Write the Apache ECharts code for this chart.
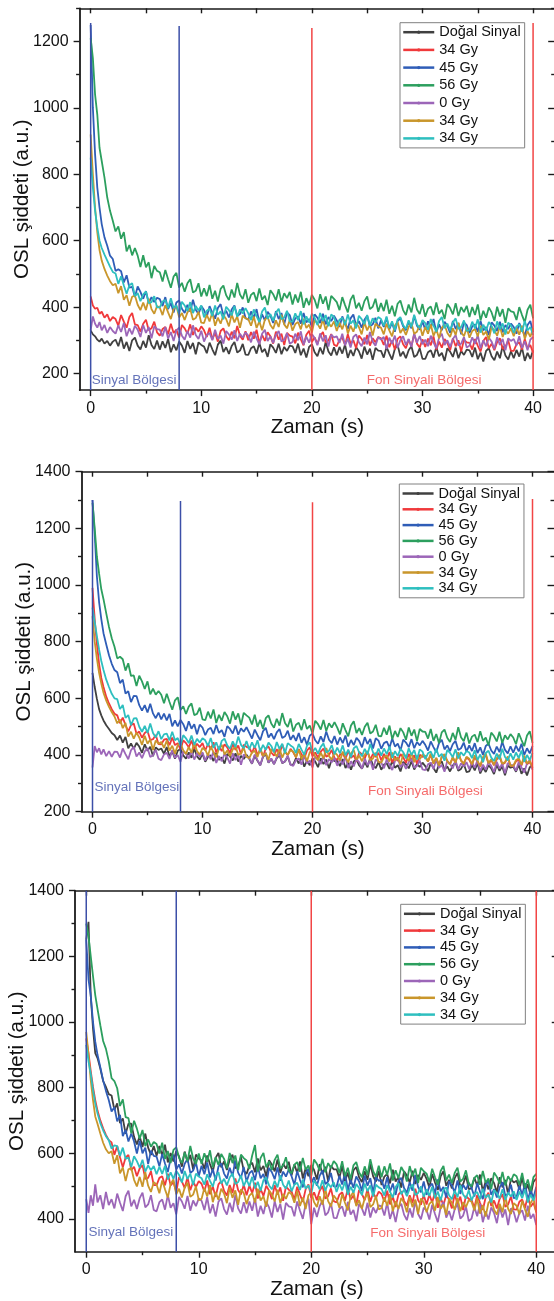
<!DOCTYPE html>
<html>
<head>
<meta charset="utf-8">
<script src="https://cdn.jsdelivr.net/npm/echarts@6/dist/echarts.min.js"></script>
<style>
html,body{margin:0;padding:0;background:#fff;}
#main{width:554px;height:1301px;}
</style>
</head>
<body>
<div id="main"></div>
<script>
/* zaman ekseni (s) */
var time = [0, 0.2, 0.4, 0.6, 0.8, 1, 1.25, 1.5, 1.75, 2,
    2.25, 2.5, 2.75, 3, 3.25, 3.5, 3.75, 4, 4.25, 4.5, 4.75, 5, 5.25, 5.5, 5.75, 6,
    6.25, 6.5, 6.75, 7, 7.25, 7.5, 7.75, 8, 8.25, 8.5, 8.75, 9, 9.25, 9.5, 9.75, 10,
    10.25, 10.5, 10.75, 11, 11.25, 11.5, 11.75, 12, 12.25, 12.5, 12.75, 13, 13.25, 13.5, 13.75, 14,
    14.25, 14.5, 14.75, 15, 15.25, 15.5, 15.75, 16, 16.25, 16.5, 16.75, 17, 17.25, 17.5, 17.75, 18,
    18.25, 18.5, 18.75, 19, 19.25, 19.5, 19.75, 20, 20.25, 20.5, 20.75, 21, 21.25, 21.5, 21.75, 22,
    22.25, 22.5, 22.75, 23, 23.25, 23.5, 23.75, 24, 24.25, 24.5, 24.75, 25, 25.25, 25.5, 25.75, 26,
    26.25, 26.5, 26.75, 27, 27.25, 27.5, 27.75, 28, 28.25, 28.5, 28.75, 29, 29.25, 29.5, 29.75, 30,
    30.25, 30.5, 30.75, 31, 31.25, 31.5, 31.75, 32, 32.25, 32.5, 32.75, 33, 33.25, 33.5, 33.75, 34,
    34.25, 34.5, 34.75, 35, 35.25, 35.5, 35.75, 36, 36.25, 36.5, 36.75, 37, 37.25, 37.5, 37.75, 38,
    38.25, 38.5, 38.75, 39, 39.25, 39.5, 39.75, 40];

var names = ['Doğal Sinyal', '34 Gy', '45 Gy', '56 Gy', '0 Gy', '34 Gy ', '34 Gy  '];

var xLabels = [0, 10, 20, 30, 40];
var xMinor = [5, 15, 25, 35];
var xTop = [0, 5, 10, 15, 20, 25, 30, 35, 40];
var yLabels1 = [200, 400, 600, 800, 1000, 1200];
var yMinor1 = [300, 500, 700, 900, 1100, 1300];
var yLabels2 = [200, 400, 600, 800, 1000, 1200, 1400];
var yMinor2 = [300, 500, 700, 900, 1100, 1300];
var yLabels3 = [400, 600, 800, 1000, 1200, 1400];
var yMinor3 = [500, 700, 900, 1100, 1300];

/* bölge çizgileri: x konumu ve üst uçları */
var regionX = [0, 8, 20, 40];
var regionTop1 = [1256, 1247, 1241, 1256];
var regionTop2 = [1300, 1297, 1292, 1304];
var regionTop3 = [1400, 1400, 1400, 1400];

/* ---- 1. grafik ---- */
var p1Dogal = [330, 318, 312, 302, 296, 305, 290, 298, 284, 296,
    302, 282, 310, 275, 295, 268, 300, 308, 284, 272, 298, 278, 315, 286, 274, 299,
    272, 297, 277, 304, 264, 288, 270, 296, 284, 262, 298, 274, 292, 258, 294, 286,
    281, 261, 293, 273, 255, 287, 299, 265, 279, 259, 283, 295, 263, 269, 289, 257,
    256, 276, 282, 260, 292, 264, 274, 250, 288, 278, 262, 290, 258, 280, 268, 284,
    282, 262, 290, 255, 275, 248, 280, 288, 264, 252, 278, 258, 295, 266, 254, 279,
    255, 280, 260, 287, 247, 271, 253, 279, 267, 245, 281, 257, 275, 241, 277, 269,
    268, 248, 280, 260, 242, 274, 286, 252, 266, 246, 270, 282, 250, 256, 276, 244,
    244, 264, 270, 248, 280, 252, 262, 238, 276, 266, 250, 278, 246, 268, 256, 272,
    270, 250, 278, 243, 263, 236, 268, 276, 252, 240, 266, 246, 283, 254, 242, 267,
    246, 271, 251, 278, 238, 262, 244, 270];
var p1Red = [432, 405, 395, 398, 380, 386, 368, 378, 358, 370,
    364, 344, 376, 356, 338, 370, 382, 348, 346, 326, 350, 362, 330, 336, 356, 324,
    314, 334, 340, 318, 350, 322, 332, 308, 346, 336, 320, 348, 316, 338, 326, 342,
    330, 310, 338, 303, 323, 296, 328, 336, 312, 300, 326, 306, 343, 314, 302, 327,
    300, 325, 305, 332, 292, 316, 298, 324, 312, 290, 326, 302, 320, 286, 322, 314,
    311, 291, 323, 303, 285, 317, 329, 295, 309, 289, 313, 325, 293, 299, 319, 287,
    282, 302, 308, 286, 318, 290, 300, 276, 314, 304, 288, 316, 284, 306, 294, 310,
    306, 286, 314, 279, 299, 272, 304, 312, 288, 276, 302, 282, 319, 290, 278, 303,
    280, 305, 285, 312, 272, 296, 278, 304, 292, 270, 306, 282, 300, 266, 302, 294,
    292, 272, 304, 284, 266, 298, 310, 276, 290, 270, 294, 306, 274, 280, 300, 268,
    268, 288, 294, 272, 304, 276, 286, 262];
var p1Blue = [1250, 1000, 860, 760, 700, 650, 610, 585, 555, 545,
    509, 514, 508, 474, 496, 459, 461, 430, 462, 446, 425, 448, 412, 430, 415, 428,
    424, 403, 430, 394, 413, 384, 414, 420, 395, 382, 407, 386, 422, 392, 379, 403,
    391, 371, 403, 383, 365, 397, 409, 375, 389, 369, 393, 405, 373, 379, 399, 367,
    362, 387, 367, 394, 354, 378, 360, 386, 374, 352, 388, 364, 382, 348, 384, 376,
    346, 366, 372, 350, 382, 354, 364, 340, 378, 368, 352, 380, 348, 370, 358, 374,
    360, 340, 372, 352, 334, 366, 378, 344, 358, 338, 362, 374, 342, 348, 368, 336,
    360, 340, 368, 333, 353, 326, 358, 366, 342, 330, 356, 336, 373, 344, 332, 357,
    332, 357, 337, 364, 324, 348, 330, 356, 344, 322, 358, 334, 352, 318, 354, 346,
    322, 342, 348, 326, 358, 330, 340, 316, 354, 344, 328, 356, 324, 346, 334, 350,
    340, 320, 352, 332, 314, 346, 358, 324];
var p1Green = [1210, 1150, 1040, 980, 880, 840, 790, 730, 690, 660,
    628, 643, 606, 626, 568, 587, 556, 578, 555, 521, 556, 520, 535, 487, 524, 509,
    505, 477, 512, 484, 458, 492, 503, 459, 473, 446, 472, 484, 444, 449, 472, 432,
    457, 433, 467, 425, 449, 417, 455, 465, 436, 421, 453, 429, 473, 438, 424, 454,
    413, 437, 444, 418, 456, 422, 434, 406, 451, 439, 420, 454, 415, 442, 427, 446,
    408, 438, 414, 446, 398, 427, 406, 437, 422, 396, 439, 410, 432, 391, 434, 425,
    415, 391, 430, 406, 384, 422, 437, 396, 413, 389, 418, 432, 394, 401, 425, 386,
    412, 388, 422, 380, 404, 372, 410, 420, 391, 376, 408, 384, 428, 393, 379, 409,
    371, 395, 402, 376, 414, 380, 392, 364, 409, 397, 378, 412, 373, 400, 385, 404,
    370, 400, 376, 408, 360, 389, 368, 399, 384, 358, 401, 372, 394, 353, 396, 387,
    385, 361, 400, 376, 354, 392, 407, 366];
var p1Purple = [330, 372, 350, 338, 355, 330, 346, 322, 340, 328,
    320, 345, 325, 352, 312, 336, 318, 344, 332, 310, 346, 322, 340, 306, 342, 334,
    332, 312, 340, 305, 325, 298, 330, 338, 314, 302, 328, 308, 345, 316, 304, 329,
    296, 316, 322, 300, 332, 304, 314, 290, 328, 318, 302, 330, 298, 320, 308, 324,
    314, 294, 326, 306, 288, 320, 332, 298, 312, 292, 316, 328, 296, 302, 322, 290,
    295, 320, 300, 327, 287, 311, 293, 319, 307, 285, 321, 297, 315, 281, 317, 309,
    312, 292, 320, 285, 305, 278, 310, 318, 294, 282, 308, 288, 325, 296, 284, 309,
    302, 310, 274, 308, 290, 314, 278, 300, 312, 286, 304, 280, 320, 293, 313, 288,
    302, 282, 314, 294, 276, 308, 320, 286, 300, 280, 304, 316, 284, 290, 310, 278,
    284, 309, 289, 316, 276, 300, 282, 308, 296, 274, 310, 286, 304, 270, 306, 298,
    304, 284, 312, 277, 297, 270, 302, 310];
var p1Gold = [920, 800, 700, 625, 572, 540, 515, 495, 478, 466,
    470, 442, 463, 422, 436, 404, 431, 435, 407, 391, 414, 391, 425, 394, 380, 403,
    398, 376, 406, 384, 364, 394, 404, 369, 382, 361, 384, 395, 362, 367, 386, 353,
    352, 377, 357, 384, 344, 368, 350, 376, 364, 342, 378, 354, 372, 338, 374, 366,
    364, 344, 372, 337, 357, 330, 362, 370, 346, 334, 360, 340, 377, 348, 336, 361,
    329, 349, 355, 333, 365, 337, 347, 323, 361, 351, 335, 363, 331, 353, 341, 357,
    328, 353, 333, 360, 320, 344, 326, 352, 340, 318, 354, 330, 348, 314, 350, 342,
    338, 318, 350, 330, 312, 344, 356, 322, 336, 316, 340, 352, 320, 326, 346, 314,
    340, 320, 348, 313, 333, 306, 338, 346, 322, 310, 336, 316, 353, 324, 312, 337,
    308, 328, 334, 312, 344, 316, 326, 302, 340, 330, 314, 342, 310, 332, 320, 336,
    312, 337, 317, 344, 304, 328, 310, 336];
var p1Cyan = [850, 760, 690, 640, 600, 578, 558, 540, 522, 506,
    501, 470, 493, 465, 440, 466, 472, 433, 442, 418, 438, 447, 412, 415, 433, 399,
    399, 417, 421, 397, 427, 397, 405, 379, 416, 405, 388, 415, 382, 403, 390, 405,
    369, 389, 395, 373, 405, 377, 387, 363, 401, 391, 375, 403, 371, 393, 381, 397,
    381, 361, 393, 373, 355, 387, 399, 365, 379, 359, 383, 395, 363, 369, 389, 357,
    356, 381, 361, 388, 348, 372, 354, 380, 368, 346, 382, 358, 376, 342, 378, 370,
    342, 362, 368, 346, 378, 350, 360, 336, 374, 364, 348, 376, 344, 366, 354, 370,
    364, 344, 372, 337, 357, 330, 362, 370, 346, 334, 360, 340, 377, 348, 336, 361,
    352, 332, 364, 344, 326, 358, 370, 336, 350, 330, 354, 366, 334, 340, 360, 328,
    331, 356, 336, 363, 323, 347, 329, 355, 343, 321, 357, 333, 351, 317, 353, 345,
    322, 342, 348, 326, 358, 330, 340, 316];

/* ---- 2. grafik ---- */
var p2Dogal = [690, 640, 598, 562, 540, 522, 505, 492, 478, 470,
    453, 469, 444, 464, 424, 441, 422, 443, 430, 408, 438, 415, 429, 396, 427, 418,
    423, 404, 428, 395, 413, 387, 415, 421, 399, 387, 409, 390, 423, 395, 384, 405,
    376, 394, 399, 379, 408, 383, 392, 370, 404, 395, 381, 406, 377, 397, 386, 401,
    387, 369, 398, 380, 364, 393, 404, 373, 386, 368, 389, 400, 371, 377, 395, 366,
    366, 389, 370, 395, 359, 380, 364, 388, 377, 357, 389, 368, 384, 353, 386, 379,
    379, 361, 386, 354, 373, 348, 377, 384, 363, 352, 375, 357, 391, 364, 354, 376,
    348, 366, 371, 351, 380, 355, 364, 342, 376, 367, 353, 378, 349, 369, 358, 373,
    361, 343, 372, 354, 338, 367, 378, 347, 360, 342, 363, 374, 345, 351, 369, 340,
    342, 365, 346, 371, 335, 356, 340, 364, 353, 333, 365, 344, 360, 329, 362, 355,
    359, 341, 366, 334, 353, 328, 357, 364];
var p2Red = [990, 880, 792, 722, 672, 640, 606, 582, 562, 546,
    540, 512, 532, 506, 483, 506, 511, 475, 483, 461, 478, 485, 453, 456, 471, 439,
    438, 454, 457, 435, 462, 435, 442, 419, 452, 442, 427, 451, 421, 440, 428, 442,
    416, 439, 420, 445, 409, 430, 414, 438, 427, 407, 439, 418, 434, 403, 436, 429,
    425, 407, 432, 400, 419, 394, 423, 430, 409, 398, 421, 403, 437, 410, 400, 422,
    410, 392, 421, 403, 387, 416, 427, 396, 409, 391, 412, 423, 394, 400, 418, 389,
    383, 401, 406, 386, 415, 390, 399, 377, 411, 402, 388, 413, 384, 404, 393, 408,
    381, 404, 385, 410, 374, 395, 379, 403, 392, 372, 404, 383, 399, 368, 401, 394,
    395, 377, 402, 370, 389, 364, 393, 400, 379, 368, 391, 373, 407, 380, 370, 392,
    383, 365, 394, 376, 360, 389, 400, 369, 382, 364, 385, 396, 367, 373, 391, 362,
    360, 378, 383, 363, 392, 367, 376, 354];
var p2Blue = [1300, 1180, 1030, 940, 880, 830, 790, 752, 722, 700,
    692, 654, 666, 617, 625, 587, 609, 608, 576, 557, 576, 550, 581, 547, 530, 550,
    526, 546, 522, 545, 501, 522, 501, 524, 509, 485, 519, 493, 509, 473, 507, 497,
    470, 490, 496, 474, 506, 478, 488, 464, 502, 492, 476, 504, 472, 494, 482, 498,
    478, 458, 490, 470, 452, 484, 496, 462, 476, 456, 480, 492, 460, 466, 486, 454,
    470, 450, 478, 443, 463, 436, 468, 476, 452, 440, 466, 446, 483, 454, 442, 467,
    437, 462, 442, 469, 429, 453, 435, 461, 449, 427, 463, 439, 457, 423, 459, 451,
    422, 442, 448, 426, 458, 430, 440, 416, 454, 444, 428, 456, 424, 446, 434, 450,
    436, 416, 448, 428, 410, 442, 454, 420, 434, 414, 438, 450, 418, 424, 444, 412,
    434, 414, 442, 407, 427, 400, 432, 440, 416, 404, 430, 410, 447, 418, 406, 431,
    408, 433, 413, 440, 400, 424, 406, 432];
var p2Green = [1290, 1200, 1100, 1040, 985, 950, 900, 852, 812, 782,
    741, 747, 738, 698, 724, 679, 681, 644, 680, 660, 633, 660, 614, 634, 613, 626,
    613, 583, 616, 587, 560, 593, 604, 559, 572, 545, 571, 582, 541, 545, 567, 526,
    523, 553, 529, 561, 513, 542, 521, 552, 537, 511, 554, 525, 547, 506, 549, 540,
    532, 508, 542, 500, 524, 492, 530, 540, 511, 496, 528, 504, 548, 513, 499, 529,
    483, 507, 514, 488, 526, 492, 504, 476, 521, 509, 490, 524, 485, 512, 497, 516,
    497, 473, 512, 488, 466, 504, 519, 478, 495, 471, 500, 514, 476, 483, 507, 468,
    466, 496, 472, 504, 456, 485, 464, 495, 480, 454, 497, 468, 490, 449, 492, 483,
    482, 458, 492, 450, 474, 442, 480, 490, 461, 446, 478, 454, 498, 463, 449, 479,
    441, 465, 472, 446, 484, 450, 462, 434, 479, 467, 448, 482, 443, 470, 455, 474,
    462, 438, 477, 453, 431, 469, 484, 443];
var p2Purple = [356, 432, 410, 424, 402, 420, 396, 414, 394, 412,
    411, 391, 423, 403, 385, 417, 429, 395, 409, 389, 413, 425, 393, 399, 419, 387,
    382, 402, 408, 386, 418, 390, 400, 376, 414, 404, 388, 416, 384, 406, 394, 410,
    380, 405, 385, 412, 372, 396, 378, 404, 392, 370, 406, 382, 400, 366, 402, 394,
    390, 370, 402, 382, 364, 396, 408, 374, 388, 368, 392, 404, 372, 378, 398, 366,
    362, 382, 388, 366, 398, 370, 380, 356, 394, 384, 368, 396, 364, 386, 374, 390,
    362, 387, 367, 394, 354, 378, 360, 386, 374, 352, 388, 364, 382, 348, 384, 376,
    373, 353, 385, 365, 347, 379, 391, 357, 371, 351, 375, 387, 355, 361, 381, 349,
    347, 367, 373, 351, 383, 355, 365, 341, 379, 369, 353, 381, 349, 371, 359, 375,
    350, 375, 355, 382, 342, 366, 348, 374, 362, 340, 376, 352, 370, 336, 372, 364,
    364, 344, 376, 356, 338, 370, 382, 348];
var p2Gold = [890, 800, 740, 690, 652, 620, 592, 570, 552, 536,
    512, 525, 495, 513, 465, 482, 458, 479, 462, 436, 468, 440, 455, 418, 451, 440,
    446, 425, 451, 415, 433, 405, 435, 442, 417, 404, 429, 408, 444, 414, 401, 425,
    418, 398, 430, 410, 392, 424, 436, 402, 416, 396, 420, 432, 400, 406, 426, 394,
    389, 409, 415, 393, 425, 397, 407, 383, 421, 411, 395, 423, 391, 413, 401, 417,
    412, 392, 420, 385, 405, 378, 410, 418, 394, 382, 408, 388, 425, 396, 384, 409,
    400, 380, 412, 392, 374, 406, 418, 384, 398, 378, 402, 414, 382, 388, 408, 376,
    373, 393, 399, 377, 409, 381, 391, 367, 405, 395, 379, 407, 375, 397, 385, 401,
    397, 377, 405, 370, 390, 363, 395, 403, 379, 367, 393, 373, 410, 381, 369, 394,
    387, 367, 399, 379, 361, 393, 405, 371, 385, 365, 389, 401, 369, 375, 395, 363,
    362, 382, 388, 366, 398, 370, 380, 356];
var p2Cyan = [920, 870, 820, 772, 732, 700, 666, 640, 616, 600,
    597, 562, 577, 531, 541, 505, 529, 530, 500, 482, 503, 478, 511, 478, 462, 484,
    456, 473, 476, 452, 482, 452, 460, 434, 470, 459, 442, 469, 436, 457, 444, 459,
    452, 432, 460, 425, 445, 418, 450, 458, 434, 422, 448, 428, 465, 436, 424, 449,
    420, 445, 425, 452, 412, 436, 418, 444, 432, 410, 446, 422, 440, 406, 442, 434,
    427, 407, 439, 419, 401, 433, 445, 411, 425, 405, 429, 441, 409, 415, 435, 403,
    426, 406, 434, 399, 419, 392, 424, 432, 408, 396, 422, 402, 439, 410, 398, 423,
    398, 423, 403, 430, 390, 414, 396, 422, 410, 388, 424, 400, 418, 384, 420, 412,
    386, 406, 412, 390, 422, 394, 404, 380, 418, 408, 392, 420, 388, 410, 398, 414,
    409, 389, 417, 382, 402, 375, 407, 415, 391, 379, 405, 385, 422, 393, 381, 406,
    384, 409, 389, 416, 376, 400, 382, 408];

/* ---- 3. grafik ---- */
var p3Dogal = [1250, 1305, 1080, 980, 905, 890, 858, 820, 802, 780,
    776, 732, 752, 692, 706, 659, 690, 690, 650, 627, 652, 619, 660, 617, 595, 622,
    592, 622, 593, 626, 572, 601, 575, 607, 590, 559, 605, 573, 595, 550, 596, 584,
    578, 552, 593, 567, 544, 586, 601, 557, 575, 549, 580, 596, 554, 562, 588, 547,
    537, 563, 571, 542, 584, 548, 561, 529, 579, 566, 545, 581, 540, 568, 553, 574,
    533, 566, 540, 575, 523, 554, 530, 564, 549, 520, 567, 536, 559, 515, 562, 551,
    551, 525, 561, 515, 541, 506, 548, 558, 527, 512, 545, 519, 567, 530, 514, 547,
    503, 529, 537, 508, 550, 514, 527, 495, 545, 532, 511, 547, 506, 534, 519, 540,
    522, 496, 537, 511, 488, 530, 545, 501, 519, 493, 524, 540, 498, 506, 532, 491,
    493, 526, 500, 535, 483, 514, 490, 524, 509, 480, 527, 496, 519, 475, 522, 511,
    516, 490, 526, 480, 506, 471, 513, 523];
var p3Red = [950, 905, 850, 802, 762, 730, 700, 676, 656, 640,
    633, 595, 622, 588, 557, 587, 595, 548, 559, 530, 554, 564, 522, 525, 545, 503,
    503, 525, 530, 502, 538, 502, 512, 483, 527, 514, 494, 527, 487, 513, 497, 515,
    507, 483, 517, 475, 499, 467, 505, 515, 486, 471, 503, 479, 523, 488, 474, 504,
    472, 502, 478, 510, 462, 491, 470, 501, 486, 460, 503, 474, 496, 455, 498, 489,
    483, 459, 498, 474, 452, 490, 505, 464, 481, 457, 486, 500, 462, 469, 493, 454,
    450, 474, 481, 455, 493, 459, 471, 443, 488, 476, 457, 491, 452, 479, 464, 483,
    476, 452, 486, 444, 468, 436, 474, 484, 455, 440, 472, 448, 492, 457, 443, 473,
    444, 474, 450, 482, 434, 463, 442, 473, 458, 432, 475, 446, 468, 427, 470, 461,
    458, 434, 473, 449, 427, 465, 480, 439, 456, 432, 461, 475, 437, 444, 468, 429,
    428, 452, 459, 433, 471, 437, 449, 421];
var p3Blue = [1250, 1130, 1080, 1000, 940, 900, 862, 822, 790, 762,
    727, 740, 697, 717, 652, 671, 636, 660, 636, 599, 638, 600, 617, 567, 608, 592,
    590, 560, 598, 569, 543, 583, 596, 550, 566, 538, 568, 583, 540, 547, 572, 530,
    562, 536, 572, 526, 552, 517, 559, 569, 538, 523, 556, 530, 578, 541, 525, 558,
    513, 539, 547, 518, 560, 524, 537, 505, 555, 542, 521, 557, 516, 544, 529, 550,
    530, 504, 545, 519, 496, 538, 553, 509, 527, 501, 532, 548, 506, 514, 540, 499,
    498, 531, 505, 540, 488, 519, 495, 529, 514, 485, 532, 501, 524, 480, 527, 516,
    518, 492, 528, 482, 508, 473, 515, 525, 494, 479, 512, 486, 534, 497, 481, 514,
    473, 499, 507, 478, 520, 484, 497, 465, 515, 502, 481, 517, 476, 504, 489, 510,
    494, 468, 509, 483, 460, 502, 517, 473, 491, 465, 496, 512, 470, 478, 504, 463,
    467, 500, 474, 509, 457, 488, 464, 498];
var p3Green = [1300, 1262, 1200, 1140, 1082, 1040, 990, 942, 918, 880,
    829, 820, 798, 744, 764, 710, 707, 661, 699, 675, 644, 671, 622, 642, 620, 634,
    628, 599, 632, 583, 607, 570, 610, 618, 586, 570, 602, 575, 622, 584, 567, 599,
    567, 600, 574, 609, 557, 588, 564, 598, 583, 554, 601, 570, 593, 549, 596, 585,
    578, 552, 593, 625, 544, 586, 601, 557, 575, 549, 580, 596, 554, 562, 588, 547,
    539, 565, 573, 544, 586, 550, 563, 531, 581, 568, 547, 583, 542, 570, 555, 576,
    566, 540, 576, 530, 556, 521, 563, 573, 542, 527, 560, 534, 582, 545, 529, 562,
    527, 560, 534, 569, 517, 548, 524, 558, 543, 514, 561, 530, 553, 509, 556, 545,
    538, 512, 553, 527, 504, 546, 561, 517, 535, 509, 540, 556, 514, 522, 548, 507,
    499, 525, 533, 504, 546, 510, 523, 491, 541, 528, 507, 543, 502, 530, 515, 536,
    530, 504, 540, 494, 520, 485, 527, 537];
var p3Purple = [460, 418, 472, 440, 505, 450, 472, 430, 482, 442,
    460, 432, 477, 449, 424, 469, 486, 438, 458, 430, 463, 480, 435, 444, 472, 427,
    423, 451, 459, 428, 473, 434, 448, 414, 467, 453, 431, 470, 425, 456, 439, 462,
    455, 427, 466, 417, 445, 407, 452, 463, 430, 413, 449, 421, 473, 432, 416, 451,
    418, 453, 425, 463, 407, 440, 415, 452, 435, 404, 454, 421, 446, 398, 449, 438,
    436, 408, 453, 425, 400, 445, 462, 384, 434, 406, 439, 456, 411, 420, 448, 403,
    402, 430, 438, 407, 452, 413, 427, 393, 446, 432, 410, 449, 404, 435, 418, 441,
    438, 410, 449, 400, 428, 390, 435, 446, 413, 396, 432, 404, 456, 415, 399, 434,
    426, 398, 443, 415, 390, 435, 452, 404, 424, 396, 429, 446, 401, 410, 438, 393,
    401, 436, 408, 446, 390, 423, 398, 435, 418, 387, 437, 404, 429, 381, 432, 421,
    390, 418, 426, 395, 440, 401, 415, 381];
var p3Gold = [970, 900, 822, 762, 712, 690, 660, 632, 612, 600,
    606, 568, 594, 539, 557, 515, 551, 555, 519, 499, 528, 498, 542, 501, 482, 512,
    505, 478, 517, 490, 465, 506, 520, 475, 492, 465, 495, 510, 467, 474, 499, 457,
    461, 494, 468, 503, 451, 482, 458, 492, 477, 448, 495, 464, 487, 443, 490, 479,
    445, 471, 479, 450, 492, 456, 469, 437, 487, 474, 453, 489, 448, 476, 461, 482,
    475, 449, 485, 439, 465, 430, 472, 482, 451, 436, 469, 443, 491, 454, 438, 471,
    460, 434, 475, 449, 426, 468, 483, 439, 457, 431, 462, 478, 436, 444, 470, 429,
    433, 466, 440, 475, 423, 454, 430, 464, 449, 420, 467, 436, 459, 415, 462, 451,
    420, 446, 454, 425, 467, 431, 444, 412, 462, 449, 428, 464, 423, 451, 436, 457,
    452, 426, 462, 416, 442, 407, 449, 459, 428, 413, 446, 420, 468, 431, 415, 448,
    440, 414, 455, 429, 406, 448, 463, 419];
var p3Cyan = [930, 880, 842, 792, 752, 722, 692, 670, 652, 640,
    614, 624, 622, 592, 617, 583, 587, 558, 591, 576, 556, 580, 544, 563, 548, 561,
    536, 559, 537, 562, 520, 542, 522, 547, 534, 511, 546, 521, 538, 503, 538, 529,
    524, 504, 536, 516, 498, 530, 542, 508, 522, 502, 526, 538, 506, 512, 532, 500,
    520, 500, 528, 493, 513, 486, 518, 526, 502, 490, 516, 496, 533, 504, 492, 517,
    484, 504, 510, 488, 520, 492, 502, 478, 516, 506, 490, 518, 486, 508, 496, 512,
    482, 507, 487, 514, 474, 498, 480, 506, 494, 472, 508, 484, 502, 468, 504, 496,
    491, 471, 503, 483, 465, 497, 509, 475, 489, 469, 493, 505, 473, 479, 499, 467,
    490, 470, 498, 463, 483, 456, 488, 496, 472, 460, 486, 466, 503, 474, 462, 487,
    456, 476, 482, 460, 492, 464, 474, 450, 488, 478, 462, 490, 458, 480, 468, 484,
    458, 483, 463, 490, 450, 474, 456, 482];

var panelData = [
    [p1Dogal, p1Red, p1Blue, p1Green, p1Purple, p1Gold, p1Cyan],
    [p2Dogal, p2Red, p2Blue, p2Green, p2Purple, p2Gold, p2Cyan],
    [p3Dogal, p3Red, p3Blue, p3Green, p3Purple, p3Gold, p3Cyan]
];

var colors = ['#404040', '#f0393b', '#2f5db7', '#2c9f5e', '#9c66b8', '#c9962b', '#2ebfbf'];
var lineBlue = '#3c4fa8', lineRed = '#f24545';
var font = 'Liberation Sans, Arial, sans-serif';
var axisColor = '#1a1a1a';

// yerleşim (piksel) – her panel için
var layout = [
    {left: 79.6, top: 8.3, width: 475.6, height: 381.8, ymin: 150, ymax: 1300,
     yLabels: yLabels1, yMinor: yMinor1, tops: regionTop1,
     legendLeft: 400, legendTop: 22.7, legendGap: 2.7,
     sinyal: [0.15, 178], fon: [30.2, 178]},
    {left: 81.5, top: 471.7, width: 473, height: 340, ymin: 200, ymax: 1400,
     yLabels: yLabels2, yMinor: yMinor2, tops: regionTop2,
     legendLeft: 399.3, legendTop: 484, legendGap: 0.8,
     sinyal: [0.23, 286], fon: [30.3, 272]},
    {left: 75, top: 890.7, width: 483.75, height: 361, ymin: 300, ymax: 1400,
     yLabels: yLabels3, yMinor: yMinor3, tops: regionTop3,
     legendLeft: 400.7, legendTop: 904.3, legendGap: 1.8,
     sinyal: [0.24, 359], fon: [30.4, 354]}
];

function pairs(xs, ys) {
    var arr = [];
    for (var i = 0; i < ys.length; i++) {
        arr.push([xs[i], ys[i]]);
    }
    return arr;
}

function plain(v) {
    return String(v);
}

var grid = [], xAxis = [], yAxis = [], series = [], legend = [];

layout.forEach(function (p, i) {
    grid.push({left: p.left, top: p.top, width: p.width, height: p.height, outerBoundsMode: 'none', containLabel: false});

    var xBase = {type: 'value', gridIndex: i, min: -1, max: 42, splitLine: {show: false}};
    // alt eksen (etiketli)
    xAxis.push(Object.assign({}, xBase, {
        position: 'bottom',
        name: 'Zaman (s)', nameLocation: 'middle', nameGap: 27, nameMoveOverlap: false,
        nameTextStyle: {fontSize: 20.5, fontFamily: font, color: '#111'},
        axisLine: {onZero: false, lineStyle: {color: axisColor, width: 1.6}},
        axisTick: {customValues: xLabels, length: 6, lineStyle: {color: axisColor, width: 1.4}},
        axisLabel: {customValues: xLabels, formatter: plain, fontSize: 16, fontFamily: font, color: '#111', margin: 10}
    }));
    // alt eksen ara çentikler
    xAxis.push(Object.assign({}, xBase, {
        position: 'bottom',
        axisLine: {show: false, onZero: false},
        axisTick: {customValues: xMinor, length: 3.5, lineStyle: {color: axisColor, width: 1.4}},
        axisLabel: {show: false}
    }));
    // üst eksen
    xAxis.push(Object.assign({}, xBase, {
        position: 'top',
        axisLine: {onZero: false, lineStyle: {color: axisColor, width: 1.5}},
        axisTick: {inside: true, customValues: xTop, length: 5, lineStyle: {color: axisColor, width: 1.4}},
        axisLabel: {show: false}
    }));

    var yBase = {type: 'value', gridIndex: i, min: p.ymin, max: p.ymax, splitLine: {show: false}};
    yAxis.push(Object.assign({}, yBase, {
        position: 'left',
        name: 'OSL şiddeti (a.u.)', nameLocation: 'middle', nameGap: 47, nameMoveOverlap: false,
        nameTextStyle: {fontSize: 20.5, fontFamily: font, color: '#111'},
        axisLine: {show: true, onZero: false, lineStyle: {color: axisColor, width: 1.8}},
        axisTick: {show: true, customValues: p.yLabels, length: 6, lineStyle: {color: axisColor, width: 1.4}},
        axisLabel: {customValues: p.yLabels, formatter: plain, fontSize: 16, fontFamily: font, color: '#111', margin: 11}
    }));
    yAxis.push(Object.assign({}, yBase, {
        position: 'left',
        axisLine: {show: false, onZero: false},
        axisTick: {show: true, customValues: p.yMinor, length: 3.5, lineStyle: {color: axisColor, width: 1.4}},
        axisLabel: {show: false}
    }));
    // sağ eksen (resmin dışında kalıyor, sadece çentikler görünür)
    yAxis.push(Object.assign({}, yBase, {
        position: 'right',
        axisLine: {show: true, onZero: false, lineStyle: {color: axisColor, width: 1.5}},
        axisTick: {show: true, inside: true, customValues: p.yLabels, length: 7, lineStyle: {color: axisColor, width: 1.4}},
        axisLabel: {show: false}
    }));
    yAxis.push(Object.assign({}, yBase, {
        position: 'right',
        axisLine: {show: false, onZero: false},
        axisTick: {show: true, inside: true, customValues: p.yMinor, length: 4, lineStyle: {color: axisColor, width: 1.4}},
        axisLabel: {show: false}
    }));

    var xi = 3 * i, yi = 4 * i;
    panelData[i].forEach(function (vals, k) {
        series.push({
            name: names[k],
            type: 'line',
            xAxisIndex: xi,
            yAxisIndex: yi,
            data: pairs(time, vals),
            color: colors[k],
            symbol: 'circle',
            symbolSize: 2,
            showSymbol: false,
            lineStyle: {width: 1.8},
            z: 2 + k * 0.01
        });
    });

    // bölge sınır çizgileri
    regionX.forEach(function (x, j) {
        series.push({
            type: 'line',
            xAxisIndex: xi,
            yAxisIndex: yi,
            data: [[x, p.ymin], [x, p.tops[j]]],
            symbol: 'none',
            silent: true,
            lineStyle: {color: j < 2 ? lineBlue : lineRed, width: 1.5},
            z: 4
        });
    });

    // bölge yazıları
    series.push({
        type: 'scatter',
        xAxisIndex: xi,
        yAxisIndex: yi,
        symbol: 'circle',
        symbolSize: 1,
        silent: true,
        itemStyle: {color: 'transparent'},
        label: {show: true, position: [0, 0], verticalAlign: 'middle', fontSize: 13.5, fontFamily: font},
        data: [
            {value: p.sinyal, label: {formatter: 'Sinyal Bölgesi', color: lineBlue, align: 'left'}},
            {value: p.fon, label: {formatter: 'Fon Sinyali Bölgesi', color: lineRed, align: 'center'}}
        ],
        z: 5
    });

    legend.push({
        data: names,
        orient: 'vertical',
        left: p.legendLeft,
        top: p.legendTop,
        itemWidth: 31,
        itemHeight: 4,
        itemGap: p.legendGap,
        padding: [2, 4, 2, 2],
        borderColor: '#808080',
        borderWidth: 1,
        backgroundColor: '#fff',
        selectedMode: false,
        lineStyle: {width: 2.5},
        textStyle: {fontSize: 14.5, fontFamily: font, color: '#111', lineHeight: 15}
    });
});

var myChart = echarts.init(document.getElementById('main'));

option = {
    animation: false,
    backgroundColor: '#fff',
    grid: grid,
    xAxis: xAxis,
    yAxis: yAxis,
    legend: legend,
    series: series
};

myChart.setOption(option);
</script>
</body>
</html>
